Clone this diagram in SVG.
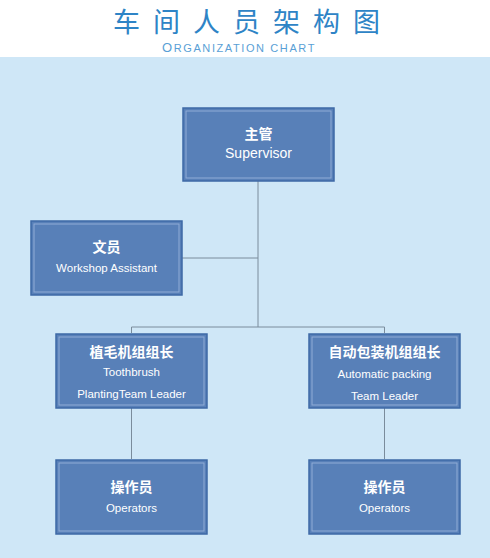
<svg xmlns="http://www.w3.org/2000/svg" width="490" height="558" viewBox="0 0 490 558">
<style>
.box{fill:#5880b8;stroke:#3e69a6;stroke-width:1.5}
.inner{fill:none;stroke:#90acd6;stroke-width:1}
.cn{font-family:"Noto Sans CJK SC","Noto Sans",sans-serif;font-weight:bold;fill:#fff;text-anchor:middle}
.en{font-family:"Liberation Sans","DejaVu Sans",sans-serif;fill:#fff;text-anchor:middle}
.ln{fill:none;stroke:#7a8c9c;stroke-width:1}
</style>
<rect x="0" y="0" width="490" height="558" fill="#cfe7f7"/>
<rect x="0" y="0" width="490" height="57" fill="#ffffff"/>
<text x="253" y="31.5" font-family="Noto Sans CJK SC,sans-serif" font-size="27" fill="#2e84c6" text-anchor="middle" letter-spacing="13">车间人员架构图</text>
<text x="239" y="51.5" font-family="Liberation Sans,sans-serif" font-size="11" fill="#5a9fd6" text-anchor="middle" letter-spacing="1.6"><tspan font-size="13">O</tspan>RGANIZATION CHART</text>
<g id="connectors">
<path class="ln" d="M258 181 V327"/>
<path class="ln" d="M182 258 H258"/>
<path class="ln" d="M131.5 327 H384.5"/>
<path class="ln" d="M131.5 327 V333"/>
<path class="ln" d="M384.5 327 V333"/>
<path class="ln" d="M131.5 408 V459"/>
<path class="ln" d="M384.5 408 V459"/>
</g>
<g id="supervisor">
<rect class="box" x="183" y="108" width="151" height="73"/>
<rect class="inner" x="186" y="111" width="145" height="67"/>
<text class="cn" x="258.5" y="139" font-size="14">主管</text>
<text class="en" x="258.5" y="158" font-size="14">Supervisor</text>
</g>
<g id="assistant">
<rect class="box" x="31" y="221" width="151" height="74"/>
<rect class="inner" x="34" y="224" width="145" height="68"/>
<text class="cn" x="106.5" y="252" font-size="14">文员</text>
<text class="en" x="106.5" y="272" font-size="11.5">Workshop Assistant</text>
</g>
<g id="planting-leader">
<rect class="box" x="56" y="334" width="151" height="74"/>
<rect class="inner" x="59" y="337" width="145" height="68"/>
<text class="cn" x="131.5" y="357" font-size="14">植毛机组组长</text>
<text class="en" x="131.5" y="376" font-size="11.5">Toothbrush</text>
<text class="en" x="131.5" y="398" font-size="11.5">PlantingTeam Leader</text>
</g>
<g id="packing-leader">
<rect class="box" x="309" y="334" width="151" height="74"/>
<rect class="inner" x="312" y="337" width="145" height="68"/>
<text class="cn" x="384.5" y="357" font-size="14">自动包装机组组长</text>
<text class="en" x="384.5" y="378" font-size="11.5">Automatic packing</text>
<text class="en" x="384.5" y="400" font-size="11.5">Team Leader</text>
</g>
<g id="operators-left">
<rect class="box" x="56" y="460" width="151" height="74"/>
<rect class="inner" x="59" y="463" width="145" height="68"/>
<text class="cn" x="131.5" y="492" font-size="14">操作员</text>
<text class="en" x="131.5" y="512" font-size="11.5">Operators</text>
</g>
<g id="operators-right">
<rect class="box" x="309" y="460" width="151" height="74"/>
<rect class="inner" x="312" y="463" width="145" height="68"/>
<text class="cn" x="384.5" y="492" font-size="14">操作员</text>
<text class="en" x="384.5" y="512" font-size="11.5">Operators</text>
</g>
</svg>
